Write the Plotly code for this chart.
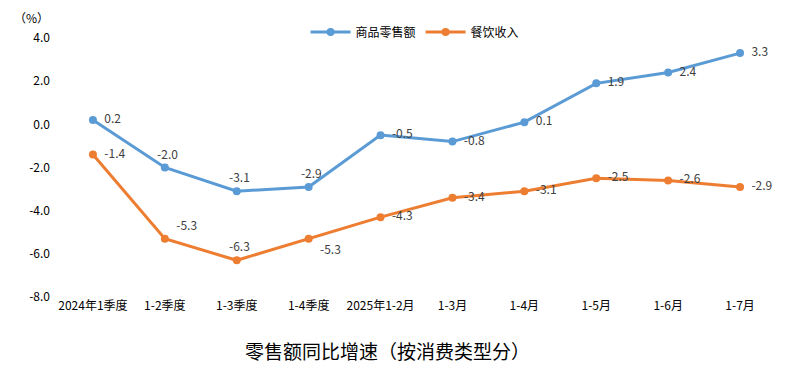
import plotly.graph_objects as go

categories = ["2024年1季度", "1-2季度", "1-3季度", "1-4季度", "2025年1-2月",
              "1-3月", "1-4月", "1-5月", "1-6月", "1-7月"]
goods = [0.2, -2.0, -3.1, -2.9, -0.5, -0.8, 0.1, 1.9, 2.4, 3.3]
catering = [-1.4, -5.3, -6.3, -5.3, -4.3, -3.4, -3.1, -2.5, -2.6, -2.9]
y_ticks = [4.0, 2.0, 0.0, -2.0, -4.0, -6.0, -8.0]

goods_pos = ["middle right", "top center", "top center", "top center", "middle right",
             "middle right", "middle right", "middle right", "middle right", "middle right"]
cat_pos = ["middle right", "top right", "top center", "bottom right", "middle right",
           "middle right", "middle right", "middle right", "middle right", "middle right"]

FONT = "Noto Sans CJK SC"
fig = go.Figure()
fig.add_trace(go.Scatter(
    x=categories, y=goods, name="商品零售额", mode="lines+markers+text",
    line=dict(color="#5B9BD5", width=3), marker=dict(size=8, color="#5B9BD5"),
    text=["  " + f"{v:.1f}" for v in goods], textposition=goods_pos,
    textfont=dict(size=12, color="#404040", family=FONT)))
fig.add_trace(go.Scatter(
    x=categories, y=catering, name="餐饮收入", mode="lines+markers+text",
    line=dict(color="#ED7D31", width=3), marker=dict(size=8, color="#ED7D31"),
    text=["  " + f"{v:.1f}" for v in catering], textposition=cat_pos,
    textfont=dict(size=12, color="#404040", family=FONT)))

fig.update_layout(
    width=790, height=372, paper_bgcolor="white", plot_bgcolor="white",
    margin=dict(l=49, r=22, t=30, b=83, autoexpand=False),
    font=dict(family=FONT, size=12, color="#000000"),
    legend=dict(orientation="h", x=0.498, xanchor="center", y=1.023, yanchor="middle",
                font=dict(size=12, color="#000000"), itemwidth=40),
    xaxis=dict(type="category", range=[-0.5, 9.5], showgrid=False, showline=False,
               ticks="", tickfont=dict(size=12, color="#000000")),
    yaxis=dict(range=[-8, 4], tickvals=y_ticks, ticktext=[f"{v:.1f}" for v in y_ticks],
               showgrid=False, zeroline=False, showline=False, ticks="",
               ticklabelstandoff=6, tickfont=dict(size=12, color="#000000")),
    annotations=[
        dict(text="（%）", xref="paper", yref="paper", x=-0.062, y=1.078,
             xanchor="left", yanchor="middle", showarrow=False,
             font=dict(size=12, color="#000000")),
        dict(text="零售额同比增速（按消费类型分）", xref="paper", yref="paper",
             x=0.46, y=-0.205, xanchor="center", yanchor="middle", showarrow=False,
             font=dict(size=19, color="#000000")),
    ],
    showlegend=True,
)
fig.write_html("out.html")
